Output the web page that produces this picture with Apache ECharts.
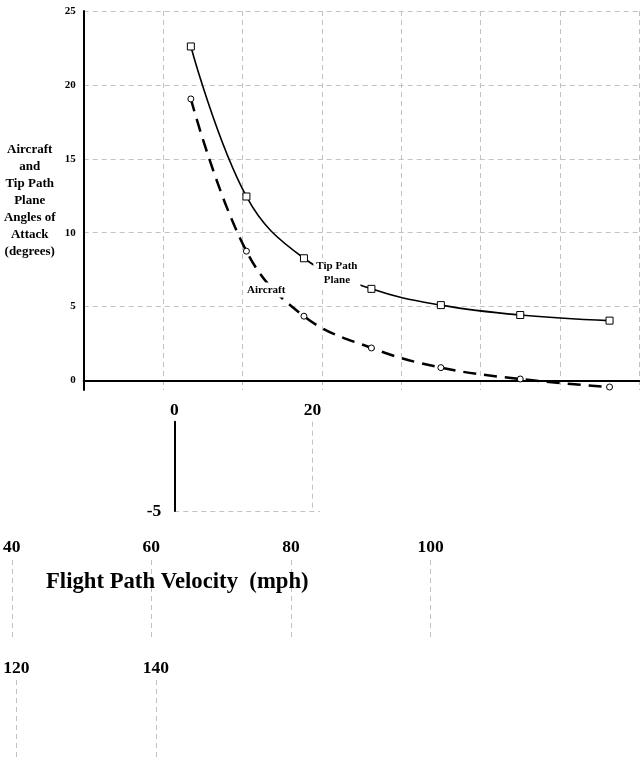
<!DOCTYPE html>
<html><head><meta charset="utf-8">
<script src="https://cdn.jsdelivr.net/npm/echarts@6/dist/echarts.min.js"></script>
<style>html,body{margin:0;padding:0;background:#fff}#c{width:640px;height:761px}</style>
</head><body><div id="c"></div>
<script>
// Flight path velocity (mph)
const velocity = [27, 41, 55.5, 72.5, 90, 110, 132.5];
// Angles of attack (degrees)
const tipPathPlane = [22.6, 12.45, 8.27, 6.2, 5.1, 4.43, 4.05];
const aircraft = [19.05, 8.75, 4.35, 2.2, 0.87, 0.1, -0.44];
// axis text
const yAxisTitle = 'Aircraft\nand\nTip Path\nPlane\nAngles of\nAttack\n(degrees)';
const xAxisTitle = 'Flight Path Velocity  (mph)';
const tipLabel = 'Tip Path\nPlane';
const aircraftLabel = 'Aircraft';

const FONT = '"Liberation Serif", "DejaVu Serif", "Times New Roman", serif';
const GRID_C = '#c2c2c2';
const dashLine = { show: true, lineStyle: { type: [5, 4], color: GRID_C, width: 1 } };
const bigLabel = { fontFamily: FONT, fontWeight: 'bold', fontSize: 17.5, color: '#000' };

const pairs = (ys) => velocity.map((v, i) => [v, ys[i]]);

const chart = echarts.init(document.getElementById('c'), null, { renderer: 'canvas' });
chart.setOption({
  animation: false,
  backgroundColor: '#fff',
  title: {
    text: xAxisTitle, left: 46, top: 571, padding: 0,
    textStyle: { fontFamily: FONT, fontWeight: 'bold', fontSize: 22.7, color: '#000' }
  },
  grid: [
    { left: 83.7, top: 11, width: 555.6, height: 379.1 },
    { left: 174.3, top: 421.7, width: 145.8, height: 89.3 },
    { left: 11.4, top: 560, width: 419.2, height: 80 },
    { left: 16.3, top: 680, width: 139.6, height: 90 }
  ],
  xAxis: [
    { gridIndex: 0, type: 'value', min: 0, max: 140, interval: 20,
      axisLine: { show: true, onZero: true, lineStyle: { color: '#000', width: 2 } },
      axisTick: { show: false }, axisLabel: { show: false },
      splitLine: dashLine },
    { gridIndex: 1, type: 'value', min: 0, max: 21.1, interval: 20, position: 'top',
      axisLine: { show: false, onZero: false }, axisTick: { show: false },
      axisLabel: Object.assign({ margin: 2, showMaxLabel: false }, bigLabel),
      splitLine: Object.assign({ showMaxLine: false }, dashLine) },
    { gridIndex: 2, type: 'value', min: 40, max: 100, interval: 20, position: 'top',
      axisLine: { show: false, onZero: false }, axisTick: { show: false },
      axisLabel: Object.assign({ margin: 4 }, bigLabel),
      splitLine: dashLine },
    { gridIndex: 3, type: 'value', min: 120, max: 140, interval: 20, position: 'top',
      axisLine: { show: false, onZero: false }, axisTick: { show: false },
      axisLabel: Object.assign({ margin: 3 }, bigLabel),
      splitLine: dashLine }
  ],
  yAxis: [
    { gridIndex: 0, type: 'value', min: -0.65, max: 25, minInterval: 5, maxInterval: 5, splitNumber: 5,
      axisLine: { show: true, onZero: false, lineStyle: { color: '#000', width: 2 } },
      axisTick: { show: false },
      axisLabel: { showMinLabel: false, margin: 8, fontFamily: FONT, fontWeight: 'bold', fontSize: 11, color: '#000' },
      splitLine: Object.assign({ showMinLine: false }, dashLine),
      name: yAxisTitle, nameLocation: 'middle', nameRotate: 0, nameGap: 54,
      nameTextStyle: { align: 'center', verticalAlign: 'middle', fontFamily: FONT, fontWeight: 'bold', fontSize: 13, lineHeight: 17, color: '#000' } },
    { gridIndex: 1, type: 'value', min: -5, max: 0, interval: 5,
      axisLine: { show: true, onZero: false, lineStyle: { color: '#000', width: 2 } },
      axisTick: { show: false },
      axisLabel: Object.assign({ margin: 13, showMaxLabel: false }, bigLabel),
      splitLine: Object.assign({ showMaxLine: false }, dashLine) },
    { gridIndex: 2, type: 'value', min: 0, max: 1, show: false },
    { gridIndex: 3, type: 'value', min: 0, max: 1, show: false }
  ],
  series: [
    { name: 'Tip Path Plane', type: 'line', xAxisIndex: 0, yAxisIndex: 0,
      data: pairs(tipPathPlane), smooth: 0.4, clip: false,
      symbol: 'rect', symbolSize: 7,
      itemStyle: { color: '#fff', borderColor: '#000', borderWidth: 1 },
      lineStyle: { color: '#000', width: 1.6, type: 'solid' },
      markPoint: {
        symbol: 'rect', symbolSize: 1, itemStyle: { color: 'rgba(0,0,0,0)' },
        label: { show: true, position: 'inside', formatter: tipLabel, fontFamily: FONT, fontWeight: 'bold',
                 fontSize: 11, lineHeight: 14, color: '#000', align: 'center', backgroundColor: '#fff', padding: [2, 3] },
        data: [{ coord: [63.8, 7.23] }]
      } },
    { name: 'Aircraft', type: 'line', xAxisIndex: 0, yAxisIndex: 0,
      data: pairs(aircraft), smooth: 0.4, clip: false,
      symbol: 'circle', symbolSize: 6,
      itemStyle: { color: '#fff', borderColor: '#000', borderWidth: 1 },
      lineStyle: { color: '#000', width: 2.5, type: [13, 8] },
      markPoint: {
        symbol: 'rect', symbolSize: 1, itemStyle: { color: 'rgba(0,0,0,0)' },
        label: { show: true, position: 'inside', formatter: aircraftLabel, fontFamily: FONT, fontWeight: 'bold',
                 fontSize: 11, color: '#000', backgroundColor: '#fff', padding: [2, 3] },
        data: [{ coord: [46.0, 6.12] }]
      } }
  ]
});
</script>
</body></html>
